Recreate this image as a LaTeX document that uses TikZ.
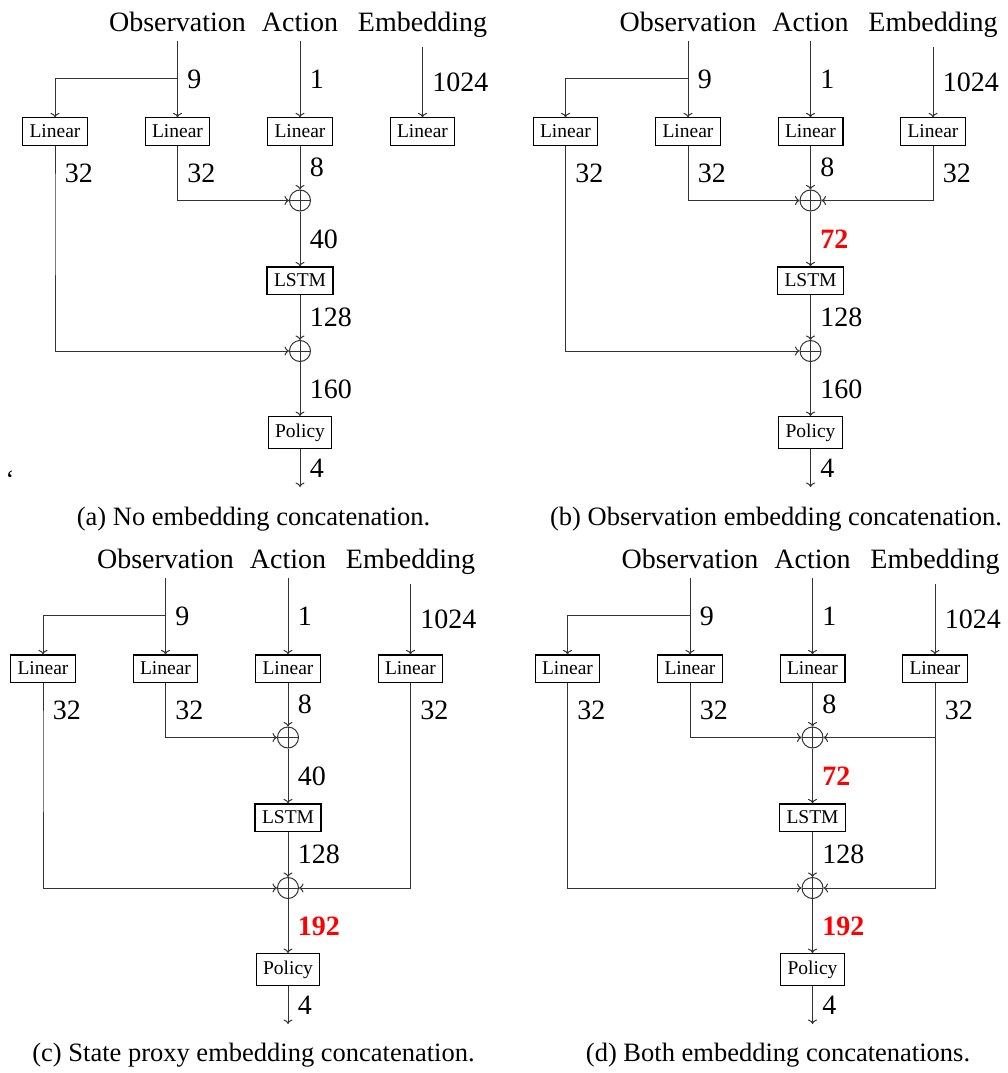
\documentclass[tikz,border=0pt]{standalone}
\usepackage{fontspec}
\setmainfont{Liberation Serif}
\usetikzlibrary{arrows.meta,calc}

\tikzset{
  flow/.style={draw=black!80, line width=1pt, -{To[length=4.5pt,width=9pt]}},
  layer/.style={draw=black, line width=1.1pt, inner sep=7pt, font=\fontsize{19.5}{21}\selectfont},
  sum/.style={circle, draw=black!80, line width=1pt, minimum size=21pt, inner sep=0pt,
    path picture={\draw[black!80, line width=1pt]
      (path picture bounding box.north) -- (path picture bounding box.south)
      (path picture bounding box.west) -- (path picture bounding box.east);}},
  title/.style={anchor=base, inner sep=9.3pt, font=\fontsize{28}{30}\selectfont},
  dim/.style={right, inner sep=9.3pt, font=\fontsize{28}{30}\selectfont},
  hot/.style={right, inner sep=9.3pt, text=red, font=\fontsize{28}{30}\selectfont\bfseries},
  capt/.style={anchor=base, inner sep=0pt, font=\fontsize{26.5}{28}\selectfont},
}

% Shared part of one network: #1 name prefix, #2/#3 style and text of the
% label after the first sum, #4/#5 style and text of the label after the second sum.
\newcommand{\netcore}[5]{%
  \node[title] (#1obs) at (177.5,31.5) {Observation};
  \node[title] (#1act) at (300,31.5) {Action};
  \node[title] (#1emb) at (422.5,31.5) {Embedding};
  \node[layer] (#1l1) at (55,131.5) {Linear};
  \node[layer] (#1l2) at (177.5,131.5) {Linear};
  \node[layer] (#1l3) at (300,131.5) {Linear};
  \node[layer] (#1l4) at (422.5,131.5) {Linear};
  \node[sum] (#1c1) at (300,200.5) {};
  \node[layer] (#1lstm) at (300,280.5) {LSTM};
  \node[sum] (#1c2) at (300,351) {};
  \node[layer] (#1pol) at (300,432.5) {Policy};
  \coordinate (#1fork) at (177.5,78);
  \coordinate (#1out) at (300,487);
  \draw[flow] (#1obs) -- (#1l2) node[midway,dim] {9};
  \draw[flow] (#1fork) -| (#1l1);
  \draw[flow] (#1act) -- (#1l3) node[midway,dim] {1};
  \draw[flow] (#1emb) -- (#1l4) node[midway,dim] {1024};
  \draw[flow] (#1l3) -- (#1c1) node[midway,dim] {8};
  \draw[flow] (#1l2) |- (#1c1) node[pos=0.25,dim] {32};
  \draw[flow] (#1c1) -- (#1lstm) node[midway,#2] {#3};
  \draw[flow] (#1lstm) -- (#1c2) node[midway,dim] {128};
  \draw[flow] (#1l1.south) -- ++(0,55) node[midway,dim] {32} |- (#1c2);
  \draw[flow] (#1c2) -- (#1pol) node[midway,#4] {#5};
  \draw[flow] (#1pol) -- (#1out) node[midway,dim] {4};
}

\begin{document}
\begin{tikzpicture}[x=1pt,y=-1pt]
\fill[white] (0,0) rectangle (1008,1073);
\useasboundingbox (0,0) rectangle (1008,1073);

% (a) no embedding
\begin{scope}
  \netcore{a}{dim}{40}{dim}{160}
\end{scope}
\node[capt] (tick) at (10,488) {‘};
\node[capt] (capa) at (253.5,525) {(a) No embedding concatenation.};

% (b) observation embedding joins the first sum
\begin{scope}[shift={(510.5,0)}]
  \netcore{b}{hot}{72}{dim}{160}
  \draw[flow] (bl4) |- (bc1) node[pos=0.25,dim] {32};
\end{scope}
\node[capt] (capb) at (776,525) {(b) Observation embedding concatenation.};

% (c) state proxy embedding joins the second sum
\begin{scope}[shift={(-12,537)}]
  \netcore{c}{dim}{40}{hot}{192}
  \draw[flow] (cl4.south) -- ++(0,55) node[midway,dim] {32} |- (cc2);
\end{scope}
\node[capt] (capc) at (253.5,1061) {(c) State proxy embedding concatenation.};

% (d) embedding joins both sums
\begin{scope}[shift={(512.5,537)}]
  \netcore{d}{hot}{72}{hot}{192}
  \draw[flow] (dl4.south) -- ++(0,55) node[midway,dim] {32} |- (dc2);
  \draw[flow] (dl4 |- dc1) -- (dc1);
\end{scope}
\node[capt] (capd) at (778,1061) {(d) Both embedding concatenations.};
\end{tikzpicture}
\end{document}
